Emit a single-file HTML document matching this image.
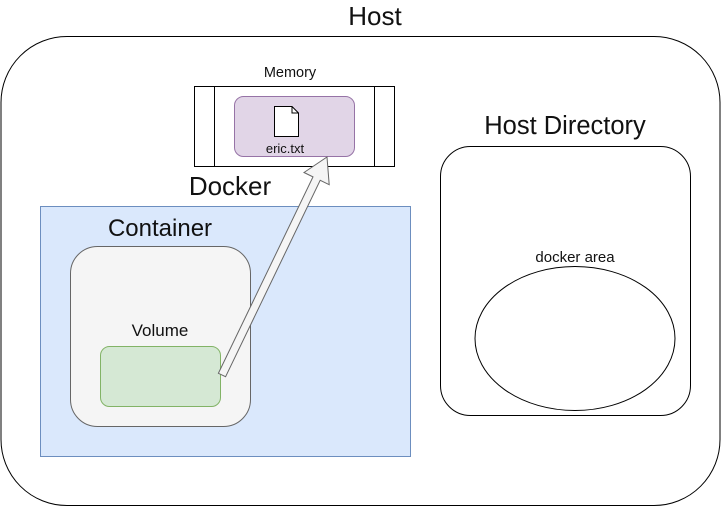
<!DOCTYPE html>
<html><head><meta charset="utf-8"><style>
html,body{margin:0;padding:0;background:#fff;}
svg{display:block;}
text{font-family:"Liberation Sans",Arial,sans-serif;fill:#111;}
</style></head><body>
<svg width="721" height="507" viewBox="0 0 721 507" xmlns="http://www.w3.org/2000/svg">
<rect x="1" y="36.5" width="719" height="469" rx="66" ry="66" fill="#fff" stroke="#000" stroke-width="1"/>
<text x="375" y="25" font-size="26" text-anchor="middle">Host</text>
<!-- Memory -->
<text x="290" y="77" font-size="14.5" text-anchor="middle" fill="#222">Memory</text>
<rect x="194.5" y="86.5" width="200" height="80" fill="#fff" stroke="#000"/>
<line x1="214.5" y1="86.5" x2="214.5" y2="166.5" stroke="#000"/>
<line x1="374.5" y1="86.5" x2="374.5" y2="166.5" stroke="#000"/>
<rect x="234.5" y="96.5" width="120" height="60" rx="9" fill="#e1d5e7" stroke="#9673a6"/>
<path d="M274.5 106.5 H292 L298.5 113 V136.5 H274.5 Z" fill="#fff" stroke="#000"/>
<path d="M292 106.5 V113 H298.5" fill="none" stroke="#000"/>
<text x="285" y="153" font-size="13" text-anchor="middle" fill="#222">eric.txt</text>
<!-- Docker -->
<text x="230" y="195" font-size="26" text-anchor="middle">Docker</text>
<rect x="40.5" y="206.5" width="370" height="250" fill="#dae8fc" stroke="#6c8ebf"/>
<text x="160" y="236" font-size="24" text-anchor="middle">Container</text>
<rect x="70.5" y="246.5" width="180" height="180" rx="27" fill="#f5f5f5" stroke="#666"/>
<text x="160" y="336" font-size="17" text-anchor="middle" fill="#222">Volume</text>
<rect x="100.5" y="346.5" width="120" height="60" rx="9" fill="#d5e8d4" stroke="#82b366"/>
<!-- arrow -->
<polygon points="225.6,376.7 320.2,180.3 329.2,184.7 327,157 304,172.5 313,176.9 218.4,373.3" fill="#f5f5f5" stroke="#666" stroke-width="1"/>
<!-- Host Directory -->
<text x="565" y="134" font-size="25.5" text-anchor="middle">Host Directory</text>
<rect x="440.5" y="146.5" width="250" height="269" rx="30" fill="#fff" stroke="#000"/>
<text x="575" y="262" font-size="15" text-anchor="middle" fill="#222">docker area</text>
<ellipse cx="575" cy="338.5" rx="100" ry="72" fill="#fff" stroke="#000"/>
</svg>
</body></html>
